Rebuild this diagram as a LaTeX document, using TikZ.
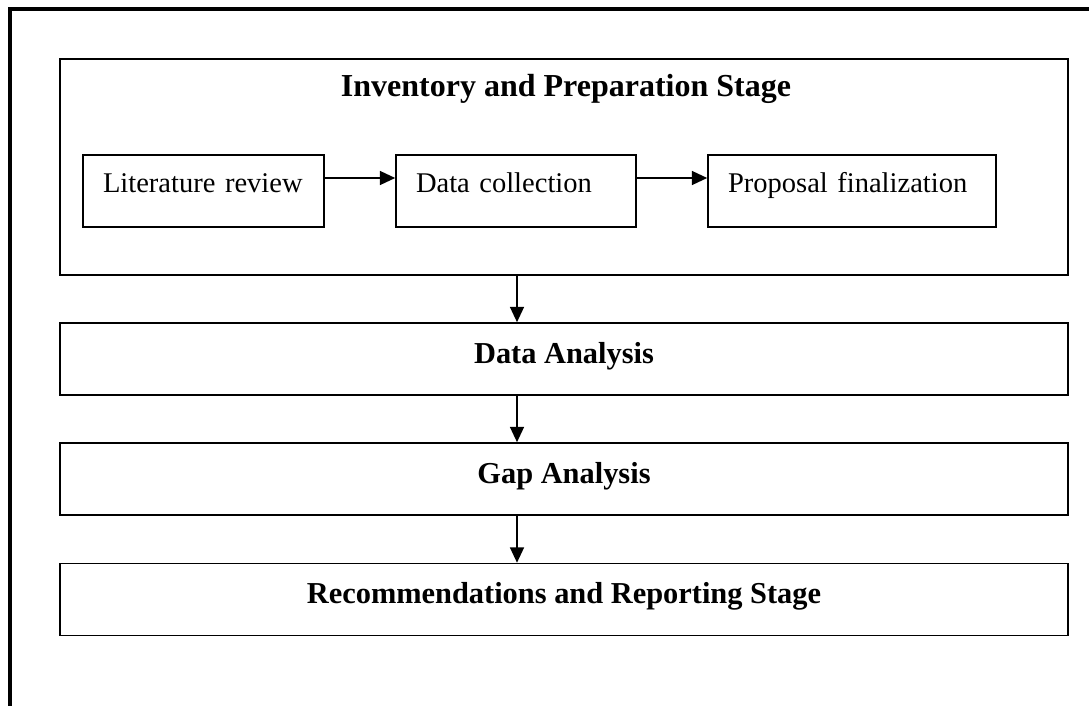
\documentclass[tikz,border=0pt]{standalone}
\usepackage{fontspec}
\setmainfont{Liberation Serif}
\usetikzlibrary{arrows.meta}

\begin{document}
\begin{tikzpicture}[x=0.75pt, y=-0.75pt]
  \tikzstyle{back} = [rectangle, draw, line width=1.2pt, minimum width=756pt,
                                    minimum height=162pt, inner sep=0pt]
  \tikzstyle{step box} = [rectangle, draw, line width=1.2pt, minimum height=54pt,
                                    inner xsep=15pt, align=left, text height=12pt, text depth=10pt,
                                    font=\fontsize{21.4}{25}\selectfont]
  \tikzstyle{stage} = [rectangle, draw, line width=1.2pt, minimum width=756pt,
                                    minimum height=54pt, text height=14pt, text depth=8pt,
                                    font=\bfseries\fontsize{22.8}{26}\selectfont]
  \tikzstyle{flow} = [-{Triangle[length=11.5pt, width=10.5pt]}, line width=1.2pt]
\useasboundingbox (0,0) rectangle (1089,706);
\draw[line width=3pt] (10,706) -- (10,9.5) -- (1089,9.5);
\node[back](inv) at (564,167){};
\node[anchor=base, font=\bfseries\fontsize{24}{28}\selectfont](invt) at (566,97){Inventory and Preparation Stage};
\node[step box, text width=150.75pt](lit) at (203.5,191){Literature review};
\node[step box, text width=150pt](coll) at (516,191){Data collection};
\node[step box, text width=186pt](prop) at (852,191){Proposal finalization};
\node[stage](da) at (564,359){Data Analysis};
\node[stage](ga) at (564,479){Gap Analysis};
\node[stage](rec) at (564,599.5){Recommendations and Reporting Stage};
\draw[flow] ([yshift=9.75pt]lit.east) -- ([yshift=9.75pt]coll.west);
\draw[flow] ([yshift=9.75pt]coll.east) -- ([yshift=9.75pt]prop.west);
\draw[flow] ([xshift=-35.25pt]inv.south) -- ([xshift=-35.25pt]da.north);
\draw[flow] ([xshift=-35.25pt]da.south) -- ([xshift=-35.25pt]ga.north);
\draw[flow] ([xshift=-35.25pt]ga.south) -- ([xshift=-35.25pt]rec.north);
\end{tikzpicture}
\end{document}
